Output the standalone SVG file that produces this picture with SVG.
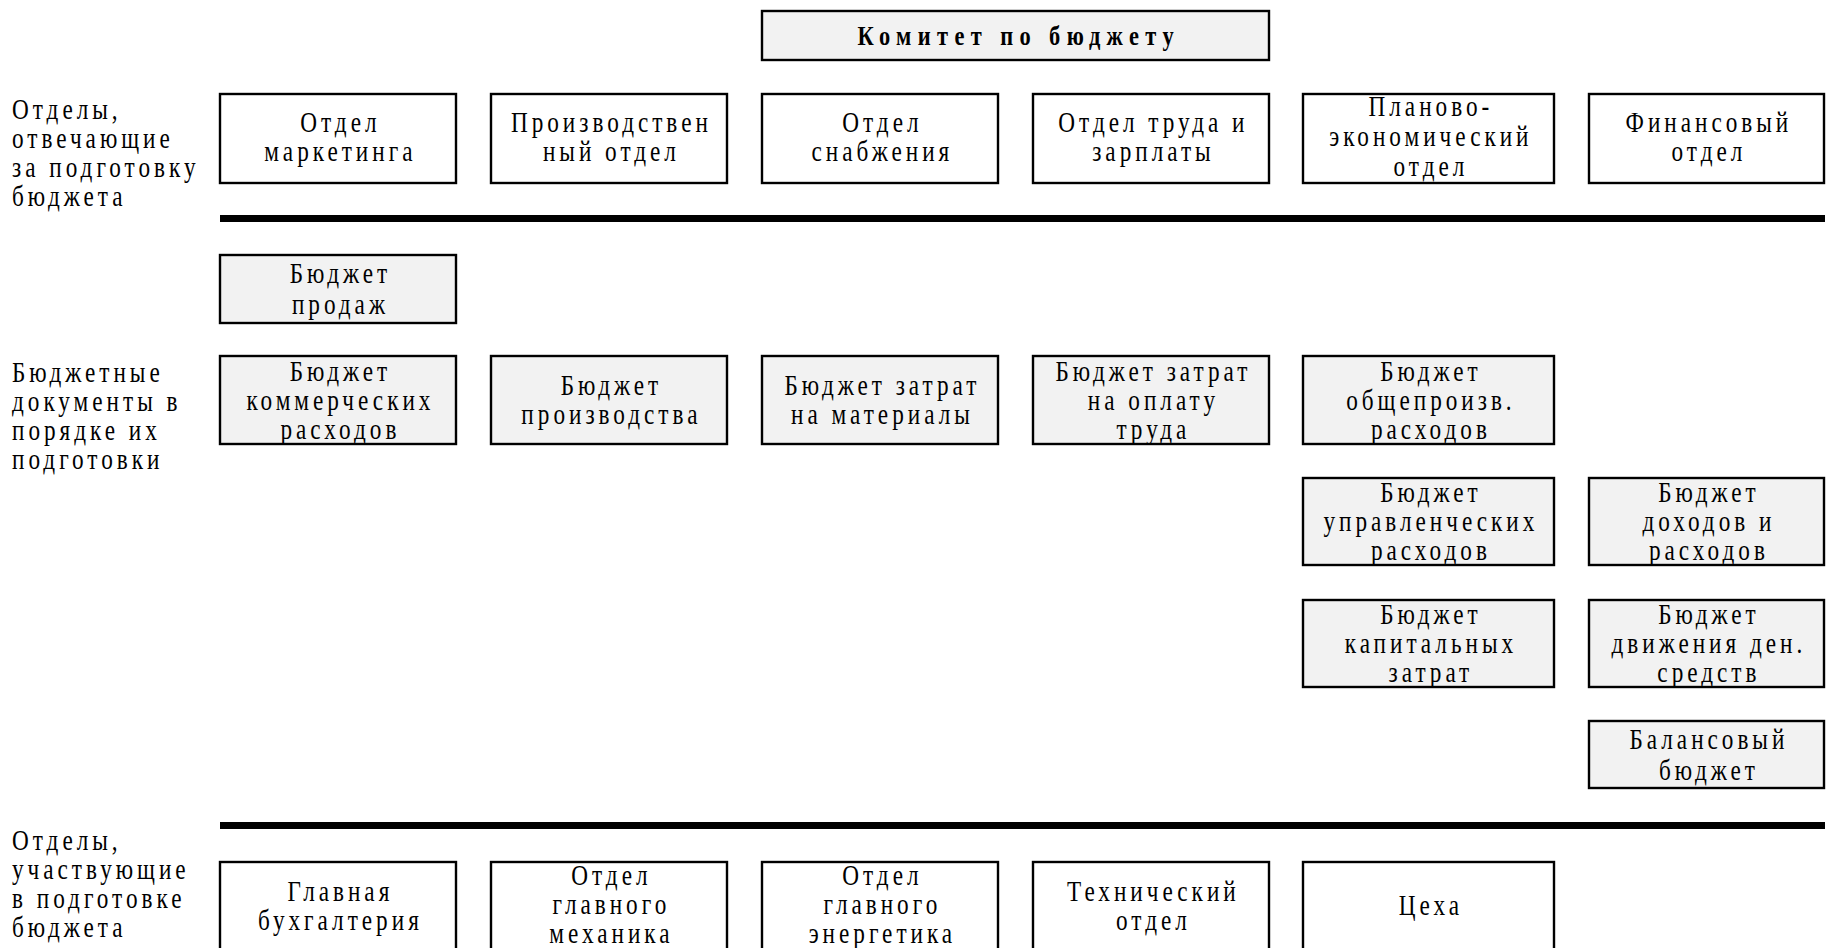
<svg xmlns="http://www.w3.org/2000/svg" width="1826" height="948" viewBox="0 0 1826 948">
<style>
  .bg { fill: #ffffff; }
  .dept { fill: #ffffff; stroke: #000; stroke-width: 2.4; }
  .budget { fill: #f2f2f2; stroke: #000; stroke-width: 2.4; }
  .t { font-family: "Liberation Serif", "Times New Roman", serif; font-size: 29px; letter-spacing: 5px; fill: #000; text-anchor: middle; }
  .lbl { font-family: "Liberation Serif", "Times New Roman", serif; font-size: 29px; letter-spacing: 5px; fill: #000; }
  .title { font-family: "Liberation Serif", "Times New Roman", serif; font-size: 28px; font-weight: bold; letter-spacing: 8px; fill: #000; text-anchor: middle; }
  .bar { fill: #000; }
</style>
<rect class="bg" x="0" y="0" width="1826" height="948"/>

<g id="labels">
  <text class="lbl" transform="matrix(0.8 0 0 1 12 0)"><tspan x="0" y="119">Отделы,</tspan><tspan x="0" y="148">отвечающие</tspan><tspan x="0" y="177">за подготовку</tspan><tspan x="0" y="206">бюджета</tspan></text>
  <text class="lbl" transform="matrix(0.8 0 0 1 12 0)"><tspan x="0" y="382">Бюджетные</tspan><tspan x="0" y="411">документы в</tspan><tspan x="0" y="440">порядке их</tspan><tspan x="0" y="469">подготовки</tspan></text>
  <text class="lbl" transform="matrix(0.8 0 0 1 12 0)"><tspan x="0" y="850">Отделы,</tspan><tspan x="0" y="879">участвующие</tspan><tspan x="0" y="908">в подготовке</tspan><tspan x="0" y="937">бюджета</tspan></text>
</g>

<g id="connectors">
  <rect class="bar" x="220" y="215" width="1605" height="7"/>
  <rect class="bar" x="220" y="822" width="1605" height="7"/>
</g>

<g id="committee">
  <rect class="budget" x="762" y="11" width="507" height="49"/>
  <text class="title" transform="matrix(0.8 0 0 1 1015.5 0)"><tspan x="4" y="45">Комитет по бюджету</tspan></text>
</g>

<g id="dept-marketing">
  <rect class="dept" x="220" y="94" width="236" height="89"/>
  <text class="t" transform="matrix(0.8 0 0 1 338 0)"><tspan x="3" y="132.5">Отдел</tspan><tspan x="3" y="161.5">маркетинга</tspan></text>
</g>
<g id="dept-production">
  <rect class="dept" x="491" y="94" width="236" height="89"/>
  <text class="t" transform="matrix(0.8 0 0 1 609 0)"><tspan x="3" y="132.5">Производствен</tspan><tspan x="3" y="161.5">ный отдел</tspan></text>
</g>
<g id="dept-supply">
  <rect class="dept" x="762" y="94" width="236" height="89"/>
  <text class="t" transform="matrix(0.8 0 0 1 880 0)"><tspan x="3" y="132.5">Отдел</tspan><tspan x="3" y="161.5">снабжения</tspan></text>
</g>
<g id="dept-labor">
  <rect class="dept" x="1033" y="94" width="236" height="89"/>
  <text class="t" transform="matrix(0.8 0 0 1 1151 0)"><tspan x="3" y="132.5">Отдел труда и</tspan><tspan x="3" y="161.5">зарплаты</tspan></text>
</g>
<g id="dept-planning">
  <rect class="dept" x="1303" y="94" width="251" height="89"/>
  <text class="t" transform="matrix(0.8 0 0 1 1428.5 0)"><tspan x="3" y="116.5">Планово-</tspan><tspan x="3" y="146.5">экономический</tspan><tspan x="3" y="176.5">отдел</tspan></text>
</g>
<g id="dept-finance">
  <rect class="dept" x="1589" y="94" width="235" height="89"/>
  <text class="t" transform="matrix(0.8 0 0 1 1706.5 0)"><tspan x="3" y="132.5">Финансовый</tspan><tspan x="3" y="161.5">отдел</tspan></text>
</g>

<g id="budget-sales">
  <rect class="budget" x="220" y="255" width="236" height="68"/>
  <text class="t" transform="matrix(0.8 0 0 1 338 0)"><tspan x="3" y="283.5">Бюджет</tspan><tspan x="3" y="314.5">продаж</tspan></text>
</g>
<g id="budget-commercial">
  <rect class="budget" x="220" y="356" width="236" height="88"/>
  <text class="t" transform="matrix(0.8 0 0 1 338 0)"><tspan x="3" y="381.5">Бюджет</tspan><tspan x="3" y="410.5">коммерческих</tspan><tspan x="3" y="439.5">расходов</tspan></text>
</g>
<g id="budget-production">
  <rect class="budget" x="491" y="356" width="236" height="88"/>
  <text class="t" transform="matrix(0.8 0 0 1 609 0)"><tspan x="3" y="395.5">Бюджет</tspan><tspan x="3" y="424.5">производства</tspan></text>
</g>
<g id="budget-materials">
  <rect class="budget" x="762" y="356" width="236" height="88"/>
  <text class="t" transform="matrix(0.8 0 0 1 880 0)"><tspan x="3" y="395.5">Бюджет затрат</tspan><tspan x="3" y="424.5">на материалы</tspan></text>
</g>
<g id="budget-labor">
  <rect class="budget" x="1033" y="356" width="236" height="88"/>
  <text class="t" transform="matrix(0.8 0 0 1 1151 0)"><tspan x="3" y="381.5">Бюджет затрат</tspan><tspan x="3" y="410.5">на оплату</tspan><tspan x="3" y="439.5">труда</tspan></text>
</g>
<g id="budget-overhead">
  <rect class="budget" x="1303" y="356" width="251" height="88"/>
  <text class="t" transform="matrix(0.8 0 0 1 1428.5 0)"><tspan x="3" y="381.5">Бюджет</tspan><tspan x="3" y="410.5">общепроизв.</tspan><tspan x="3" y="439.5">расходов</tspan></text>
</g>
<g id="budget-admin">
  <rect class="budget" x="1303" y="478" width="251" height="87"/>
  <text class="t" transform="matrix(0.8 0 0 1 1428.5 0)"><tspan x="3" y="502.5">Бюджет</tspan><tspan x="3" y="531.5">управленческих</tspan><tspan x="3" y="560.5">расходов</tspan></text>
</g>
<g id="budget-income">
  <rect class="budget" x="1589" y="478" width="235" height="87"/>
  <text class="t" transform="matrix(0.8 0 0 1 1706.5 0)"><tspan x="3" y="502.5">Бюджет</tspan><tspan x="3" y="531.5">доходов и</tspan><tspan x="3" y="560.5">расходов</tspan></text>
</g>
<g id="budget-capital">
  <rect class="budget" x="1303" y="600" width="251" height="87"/>
  <text class="t" transform="matrix(0.8 0 0 1 1428.5 0)"><tspan x="3" y="624.5">Бюджет</tspan><tspan x="3" y="653.5">капитальных</tspan><tspan x="3" y="682.5">затрат</tspan></text>
</g>
<g id="budget-cash">
  <rect class="budget" x="1589" y="600" width="235" height="87"/>
  <text class="t" transform="matrix(0.8 0 0 1 1706.5 0)"><tspan x="3" y="624.5">Бюджет</tspan><tspan x="3" y="653.5">движения ден.</tspan><tspan x="3" y="682.5">средств</tspan></text>
</g>
<g id="budget-balance">
  <rect class="budget" x="1589" y="721" width="235" height="67"/>
  <text class="t" transform="matrix(0.8 0 0 1 1706.5 0)"><tspan x="3" y="749.5">Балансовый</tspan><tspan x="3" y="780.5">бюджет</tspan></text>
</g>

<g id="dept-accounting">
  <rect class="dept" x="220" y="862" width="236" height="100"/>
  <text class="t" transform="matrix(0.8 0 0 1 338 0)"><tspan x="3" y="901.5">Главная</tspan><tspan x="3" y="930.5">бухгалтерия</tspan></text>
</g>
<g id="dept-mechanic">
  <rect class="dept" x="491" y="862" width="236" height="100"/>
  <text class="t" transform="matrix(0.8 0 0 1 609 0)"><tspan x="3" y="885.5">Отдел</tspan><tspan x="3" y="914.5">главного</tspan><tspan x="3" y="943.5">механика</tspan></text>
</g>
<g id="dept-energy">
  <rect class="dept" x="762" y="862" width="236" height="100"/>
  <text class="t" transform="matrix(0.8 0 0 1 880 0)"><tspan x="3" y="885.5">Отдел</tspan><tspan x="3" y="914.5">главного</tspan><tspan x="3" y="943.5">энергетика</tspan></text>
</g>
<g id="dept-technical">
  <rect class="dept" x="1033" y="862" width="236" height="100"/>
  <text class="t" transform="matrix(0.8 0 0 1 1151 0)"><tspan x="3" y="901.5">Технический</tspan><tspan x="3" y="930.5">отдел</tspan></text>
</g>
<g id="dept-shops">
  <rect class="dept" x="1303" y="862" width="251" height="100"/>
  <text class="t" transform="matrix(0.8 0 0 1 1428.5 0)"><tspan x="3" y="915.5">Цеха</tspan></text>
</g>
</svg>
